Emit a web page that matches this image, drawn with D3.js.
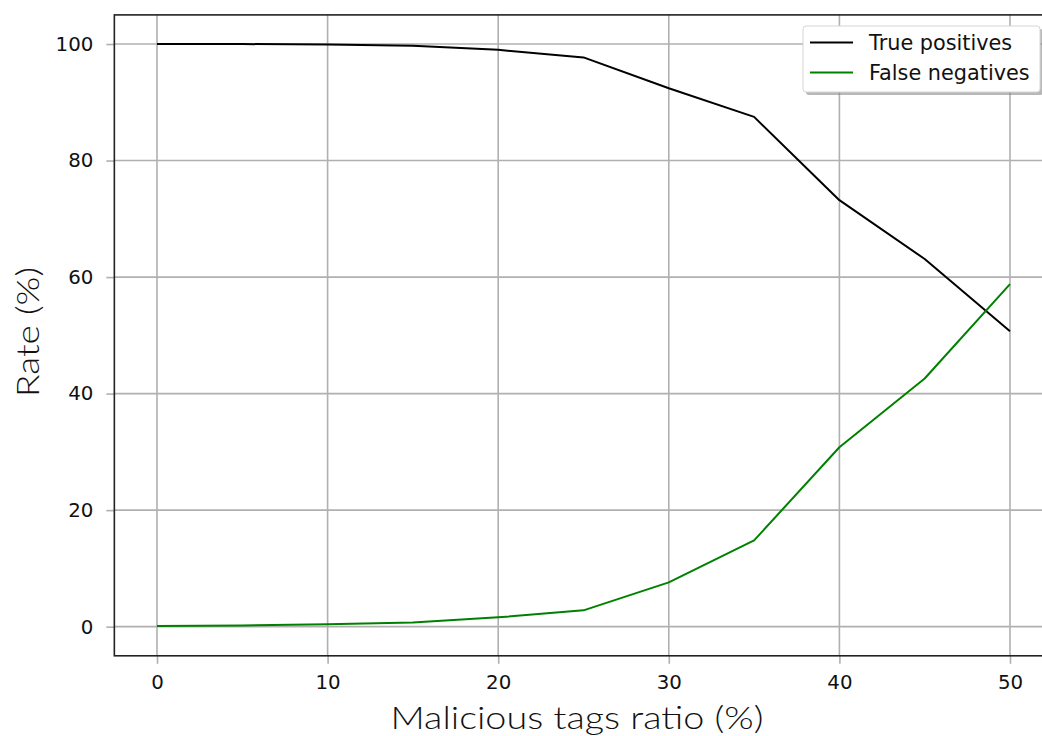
<!DOCTYPE html>
<html>
<head>
<meta charset="utf-8">
<script src="https://cdn.jsdelivr.net/npm/d3@7"></script>
<style>
  html, body { margin: 0; padding: 0; background: #fff; }
  svg { display: block; }
</style>
</head>
<body>
<svg id="chart" width="1042" height="736"></svg>
<script>
const ratios = [0, 5, 10, 15, 20, 25, 30, 35, 40, 45, 50];
const truePositives = [100, 100, 99.9, 99.7, 99.0, 97.7, 92.4, 87.5, 73.2, 63.1, 50.7];
const falseNegatives = [0.1, 0.2, 0.4, 0.7, 1.6, 2.8, 7.6, 14.8, 30.8, 42.6, 58.8];
const xTicks = [0, 10, 20, 30, 40, 50];
const yTicks = [0, 20, 40, 60, 80, 100];
const seriesNames = ["True positives", "False negatives"];
const seriesColors = ["#000000", "#008000"];

const svg = d3.select("#chart");
const x = d3.scaleLinear().domain([-2.5, 52.5]).range([114.35, 1052.65]);
const y = d3.scaleLinear().domain([-5, 105]).range([655.8, 14.9]);

const font = "'DejaVu Sans', sans-serif";

// grid
const grid = svg.append("g");
grid.selectAll("line.vx").data(xTicks).join("line")
  .attr("x1", d => x(d)).attr("x2", d => x(d))
  .attr("y1", y(-5)).attr("y2", y(105))
  .attr("stroke", "#b0b0b0").attr("stroke-width", 1.6);
grid.selectAll("line.hy").data(yTicks).join("line")
  .attr("y1", d => y(d)).attr("y2", d => y(d))
  .attr("x1", x(-2.5)).attr("x2", x(52.5))
  .attr("stroke", "#b0b0b0").attr("stroke-width", 1.6);

// axes
const xAxis = svg.append("g").attr("transform", `translate(0,${y(-5)})`)
  .call(d3.axisBottom(x).tickValues(xTicks).tickSize(8).tickPadding(11).tickSizeOuter(0));
const yAxis = svg.append("g").attr("transform", `translate(${x(-2.5)},0)`)
  .call(d3.axisLeft(y).tickValues(yTicks).tickSize(8).tickPadding(13).tickSizeOuter(0));
[xAxis, yAxis].forEach(a => {
  a.select(".domain").remove();
  a.selectAll(".tick line").attr("stroke", "#b0b0b0").attr("stroke-width", 1.6);
  a.selectAll(".tick text").attr("fill", "#111").style("font-family", font).style("font-size", "19.8px");
});

// lines
const lineGen = vals => d3.line().x((d, i) => x(ratios[i])).y(d => y(d))(vals);
[truePositives, falseNegatives].forEach((vals, k) => {
  svg.append("path").attr("d", lineGen(vals))
    .attr("fill", "none").attr("stroke", seriesColors[k]).attr("stroke-width", 2)
    .attr("stroke-linejoin", "round");
});

// frame
svg.append("rect")
  .attr("x", x(-2.5)).attr("y", y(105))
  .attr("width", x(52.5) - x(-2.5)).attr("height", y(-5) - y(105))
  .attr("fill", "none").attr("stroke", "#222").attr("stroke-width", 1.6);

// axis labels
const labelFont = "'Lato', 'DejaVu Sans', sans-serif";
svg.append("text")
  .attr("x", 577).attr("y", 729)
  .attr("text-anchor", "middle")
  .attr("textLength", 373).attr("lengthAdjust", "spacingAndGlyphs")
  .style("font-family", labelFont).style("font-size", "31px").style("font-weight", 300)
  .attr("fill", "#111")
  .text("Malicious tags ratio (%)");
svg.append("text")
  .attr("transform", "translate(39,332) rotate(-90)")
  .attr("text-anchor", "middle")
  .attr("textLength", 130).attr("lengthAdjust", "spacingAndGlyphs")
  .style("font-family", labelFont).style("font-size", "31px").style("font-weight", 300)
  .attr("fill", "#111")
  .text("Rate (%)");

// legend
const lg = svg.append("g");
lg.append("rect").attr("x", 806).attr("y", 29).attr("width", 237).attr("height", 66)
  .attr("rx", 3).attr("fill", "#888").attr("opacity", 0.6);
lg.append("rect").attr("x", 803).attr("y", 26).attr("width", 237).attr("height", 66)
  .attr("rx", 3).attr("fill", "#fff").attr("stroke", "#d5d5d5").attr("stroke-width", 1);
seriesNames.forEach((name, i) => {
  const yy = 42.5 + i * 30;
  lg.append("line").attr("x1", 810).attr("x2", 853).attr("y1", yy).attr("y2", yy)
    .attr("stroke", seriesColors[i]).attr("stroke-width", 2);
  lg.append("text").attr("x", 869).attr("y", yy + 7.5)
    .style("font-family", font).style("font-size", "20.8px").attr("fill", "#111")
    .text(name);
});
</script>
</body>
</html>
